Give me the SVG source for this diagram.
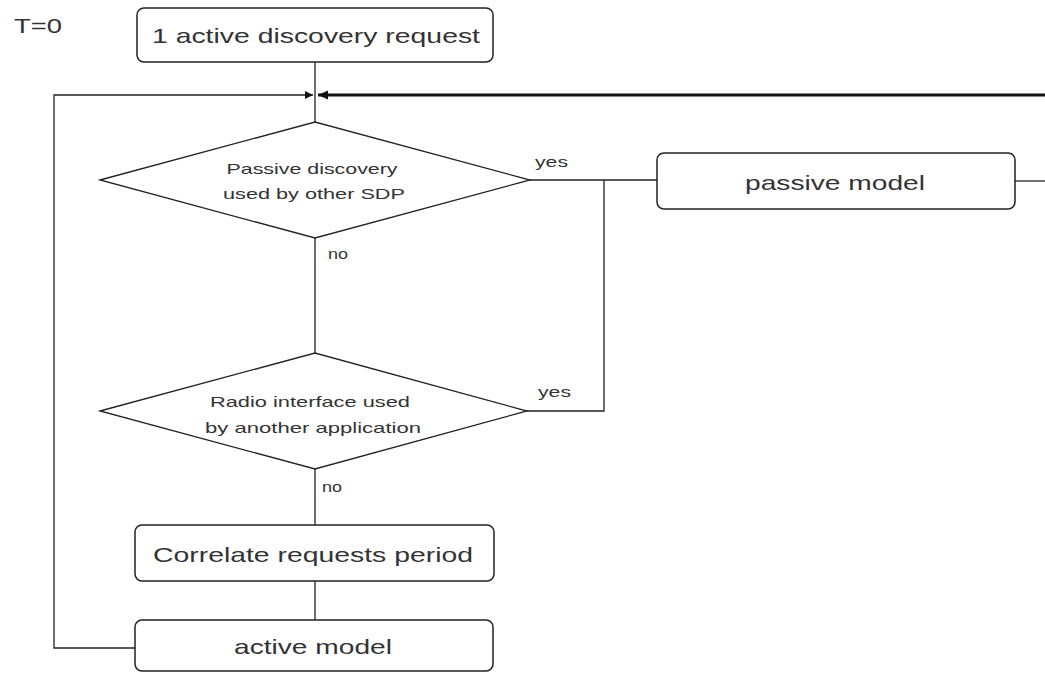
<svg xmlns="http://www.w3.org/2000/svg" width="1045" height="673" viewBox="0 0 1045 673">
<style>
.box{fill:#fff;stroke:#222;stroke-width:1.5}
.dia{fill:#fff;stroke:#222;stroke-width:1.3}
.ln{fill:none;stroke:#222;stroke-width:1.3}
.thick{fill:none;stroke:#111;stroke-width:3}
.big{font-family:"Liberation Sans",Arial,sans-serif;font-size:21px;fill:#333;text-anchor:middle}
.mid{font-family:"Liberation Sans",Arial,sans-serif;font-size:15px;fill:#333;text-anchor:middle}
.sm{font-family:"Liberation Sans",Arial,sans-serif;font-size:14px;fill:#333}
</style>
<defs>
<marker id="ah" markerUnits="userSpaceOnUse" markerWidth="10" markerHeight="10" refX="8" refY="4" orient="auto">
<path d="M0,0 L8,4 L0,8 z" fill="#111"/>
</marker>
<marker id="ahb" markerUnits="userSpaceOnUse" markerWidth="12" markerHeight="12" refX="10" refY="4.5" orient="auto">
<path d="M0,0 L10,4.5 L0,9 z" fill="#111"/>
</marker>
</defs>
<text class="big" x="14" y="33" style="text-anchor:start" textLength="48" lengthAdjust="spacingAndGlyphs">T=0</text>
<g id="connectors">
<path class="ln" d="M315,62 V122"/>
<path class="ln" d="M530,180 H657"/>
<path class="ln" d="M1015,181 H1045"/>
<path class="ln" d="M604,180 V411 H527"/>
<path class="ln" d="M315,238 V353"/>
<path class="ln" d="M315,469 V525"/>
<path class="ln" d="M315,581 V620"/>
<path class="ln" d="M135,648 H54 V95 H313" marker-end="url(#ah)"/>
<path class="thick" d="M1045,95 H318" marker-end="url(#ahb)"/>
<text class="sm" x="535" y="167" textLength="33" lengthAdjust="spacingAndGlyphs">yes</text>
<text class="sm" x="328" y="259" textLength="20" lengthAdjust="spacingAndGlyphs">no</text>
<text class="sm" x="538" y="397" textLength="33" lengthAdjust="spacingAndGlyphs">yes</text>
<text class="sm" x="322" y="492" textLength="20" lengthAdjust="spacingAndGlyphs">no</text>
</g>
<g id="n1">
<rect class="box" x="137" y="8" width="356" height="54" rx="7"/>
<text class="big" x="316" y="43" textLength="328" lengthAdjust="spacingAndGlyphs">1 active discovery request</text>
</g>
<g id="d1">
<polygon class="dia" points="100,180 315,122 530,180 315,238"/>
<text class="mid" x="312" y="174" textLength="171" lengthAdjust="spacingAndGlyphs">Passive discovery</text>
<text class="mid" x="314" y="199" textLength="182" lengthAdjust="spacingAndGlyphs">used by other SDP</text>
</g>
<g id="passive">
<rect class="box" x="657" y="153" width="358" height="56" rx="7"/>
<text class="big" x="835" y="190" textLength="180" lengthAdjust="spacingAndGlyphs">passive model</text>
</g>
<g id="d2">
<polygon class="dia" points="100,411 315,353 527,411 315,469"/>
<text class="mid" x="310" y="407" textLength="200" lengthAdjust="spacingAndGlyphs">Radio interface used</text>
<text class="mid" x="313" y="433" textLength="216" lengthAdjust="spacingAndGlyphs">by another application</text>
</g>
<g id="correlate">
<rect class="box" x="135" y="525" width="359" height="56" rx="7"/>
<text class="big" x="313" y="562" textLength="320" lengthAdjust="spacingAndGlyphs">Correlate requests period</text>
</g>
<g id="active">
<rect class="box" x="135" y="620" width="358" height="51" rx="7"/>
<text class="big" x="313" y="654" textLength="158" lengthAdjust="spacingAndGlyphs">active model</text>
</g>
</svg>
